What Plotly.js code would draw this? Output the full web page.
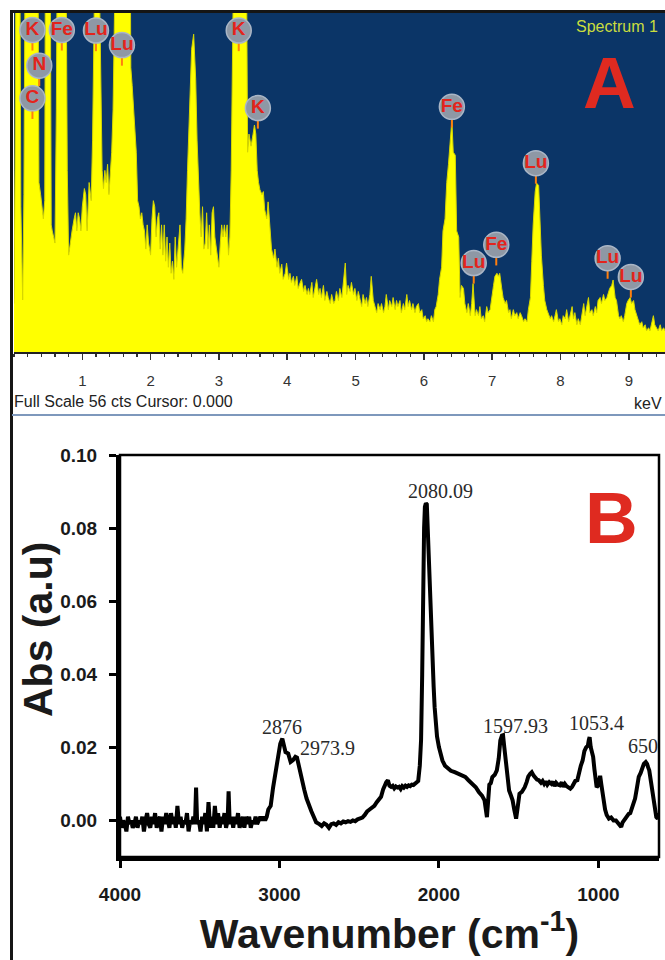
<!DOCTYPE html>
<html>
<head>
<meta charset="utf-8">
<script src="https://cdn.plot.ly/plotly-3.0.1.min.js"></script>
<style>html,body{margin:0;padding:0;background:#fff;}#chart{width:665px;height:960px;}</style>
</head>
<body>
<div id="chart"></div>
<script>
// ---------- Panel A : EDS spectrum ----------
const edsKeV = [0.00,0.015,0.03,0.085,0.10,0.127,0.145,0.165,0.35,0.365,0.39,0.41,0.43,0.45,0.46,0.53,0.545,0.56,0.58,0.60,0.62,0.635,0.76,0.78,0.80,0.82,0.85,0.88,0.90,0.92,0.94,0.96,0.98,1.00,1.03,1.05,1.07,1.10,1.13,1.15,1.17,1.19,1.24,1.27,1.29,1.31,1.33,1.35,1.37,1.39,1.41,1.43,1.45,1.47,1.49,1.70,1.71,1.73,1.75,1.77,1.79,1.81,1.83,1.85,1.87,1.89,1.91,1.93,1.95,1.97,2.00,2.02,2.04,2.06,2.08,2.10,2.12,2.14,2.16,2.18,2.20,2.22,2.24,2.26,2.28,2.30,2.32,2.34,2.36,2.38,2.40,2.43,2.45,2.47,2.50,2.52,2.54,2.57,2.60,2.63,2.66,2.68,2.70,2.72,2.74,2.76,2.78,2.80,2.82,2.84,2.86,2.88,2.90,2.92,2.94,2.96,2.98,3.00,3.02,3.04,3.06,3.08,3.10,3.12,3.14,3.16,3.18,3.20,3.22,3.40,3.42,3.44,3.47,3.50,3.52,3.54,3.56,3.58,3.60,3.63,3.65,3.67,3.70,3.72,3.75,3.77,3.80,3.82,3.85,3.87,3.89,3.92,3.94,3.97,3.99,4.02,4.04,4.06,4.09,4.11,4.14,4.16,4.19,4.21,4.24,4.26,4.29,4.31,4.33,4.36,4.38,4.41,4.43,4.46,4.48,4.50,4.53,4.55,4.58,4.60,4.63,4.65,4.68,4.70,4.72,4.75,4.77,4.80,4.82,4.85,4.87,4.89,4.92,4.94,4.97,4.99,5.02,5.04,5.06,5.09,5.11,5.14,5.16,5.18,5.21,5.23,5.26,5.28,5.31,5.33,5.36,5.38,5.41,5.43,5.45,5.48,5.50,5.53,5.55,5.58,5.60,5.62,5.65,5.67,5.70,5.72,5.75,5.77,5.79,5.82,5.84,5.87,5.89,5.92,5.94,5.97,5.99,6.02,6.04,6.06,6.09,6.11,6.14,6.16,6.18,6.21,6.23,6.26,6.28,6.31,6.335,6.36,6.385,6.41,6.43,6.46,6.48,6.51,6.53,6.55,6.58,6.60,6.63,6.65,6.68,6.70,6.72,6.75,6.77,6.80,6.82,6.84,6.87,6.89,6.92,6.94,6.97,6.99,7.02,7.04,7.07,7.09,7.11,7.14,7.16,7.19,7.21,7.24,7.26,7.28,7.31,7.33,7.36,7.38,7.41,7.43,7.46,7.48,7.51,7.53,7.56,7.58,7.60,7.63,7.65,7.68,7.70,7.72,7.75,7.77,7.80,7.82,7.85,7.87,7.90,7.92,7.94,7.97,7.99,8.02,8.04,8.07,8.09,8.12,8.14,8.17,8.19,8.21,8.24,8.26,8.29,8.31,8.34,8.36,8.38,8.41,8.43,8.46,8.48,8.51,8.53,8.55,8.58,8.60,8.63,8.65,8.68,8.70,8.72,8.75,8.77,8.80,8.82,8.85,8.87,8.89,8.92,8.94,8.97,8.99,9.02,9.04,9.07,9.09,9.12,9.14,9.16,9.19,9.21,9.24,9.26,9.29,9.31,9.34,9.36,9.38,9.41,9.43,9.46,9.48,9.51,9.53];
const edsCounts = [8,30,70,70,24,8.6,26,70,70,28,26,24,22,25,70,70,21,20,19,18,40,70,70,30,16,18,20,22,23,20,23,22,20,24,27,26,20,28,25,35,55,70,70,50,30,27,30,28,31,26,30,33,40,55,70,70,47,44,40,35,33,25,24,22,23,21,20,17,21,18,16,22,25,24,19,22,23,17,21,16,21,15,19,14,18,13,15,12,19,14,17,21,14,13,17,22,30,40,50,52.5,45,35,27,23,19,24,17,18,23,17,21,16,23,24,19,17,16,14,18,21,19,21,19,21,16,19,30,50,70,70,33,36,34,36,37.5,36,30,28,26.8,26,26.5,23.5,22,24.8,19,17,15.5,17,14,15.5,13,14.5,12,13,14.7,12,13,11.5,12.5,11,12.5,10.5,11.5,12,10,11,9.5,10.5,9.5,11.5,9,10.5,12,9.5,10.5,9,11,8.5,10,9,8,9.5,8,8.5,10,8.5,10.5,9,11,14.7,9.5,11,10,11.5,9.5,10.5,8.5,10,9,7.5,9.5,8,9,7.5,9.5,12.5,8.5,7.5,6.5,8,7,8,6.5,7.5,9.5,7,8.5,7.5,9,7,8.5,7.5,8.5,6.5,8,7,9.5,7.5,8.5,7,8,6.5,7.5,8,6.5,7,5.5,6,5,5.5,5,6,5,7,7.5,9.5,12,14,20,22,28,31,35,38.3,33,32.5,20,19,9,11,10.5,8,6.5,8,6,8,11.3,6,7,6,7.5,5.5,6,5,7.5,6.5,7,9,11,12.5,13,12.5,13,10.5,9,8,8.5,6.5,7,5.5,7,6,6.5,5.5,6.5,6,5,5.5,5,7,9,15,21,26.5,27.9,27.5,22,16,11,8.5,7,6.5,5.5,6,5,6,7,5,5.5,4.5,6,5.5,7,5,6,7.5,5.5,6.5,4.5,5.5,4.5,6,8,6,7,9,6.5,7,6,7.5,6.5,8.5,9,8,9.5,8.5,9,10,10.5,11,11.9,9,8.5,6,5.5,6,5,6,8,8.5,9,8,8.5,7,6,5.5,4.5,5,4,4.5,3.5,4,3.5,5,6,4.5,4,3.5,4.5,3.5,4,3.5];
const edsTickVals = [1,2,3,4,5,6,7,8,9];
const edsLabelText = ['K','Fe','Lu','Lu','N','C','K','K','Fe','Lu','Lu','Fe','Lu','Lu'];
const edsLabelKeV = [0.27,0.70,1.20,1.58,0.37,0.27,3.29,3.57,6.41,7.64,6.73,7.06,8.69,9.03];
const edsLabelCts = [53.2,53.2,53.1,50.7,47.3,41.9,53.1,40.3,40.5,31.2,14.7,17.7,15.5,12.4];

// ---------- Panel B : FTIR spectrum ----------
const ftirWavenumber = [4000,3990,3980,3970,3960,3950,3940,3930,3920,3910,3900,3890,3880,3870,3860,3850,3840,3830,3820,3810,3800,3790,3780,3770,3760,3750,3740,3730,3720,3710,3700,3690,3680,3670,3660,3650,3640,3630,3620,3610,3600,3590,3580,3570,3560,3550,3540,3530,3523,3516,3505,3495,3485,3475,3465,3455,3445,3435,3425,3415,3405,3395,3385,3375,3365,3355,3345,3335,3325,3319,3312,3300,3290,3280,3270,3260,3250,3240,3230,3220,3210,3200,3190,3180,3170,3160,3150,3140,3130,3120,3110,3100,3090,3080,3070,3055,3040,3025,3010,2995,2982,2972,2962,2945,2930,2915,2900,2890,2875,2860,2845,2830,2815,2800,2785,2770,2750,2735,2720,2705,2690,2675,2660,2645,2630,2615,2600,2585,2570,2555,2540,2525,2510,2495,2480,2465,2450,2435,2420,2405,2390,2375,2363,2350,2340,2330,2320,2310,2300,2290,2280,2270,2260,2250,2240,2230,2220,2210,2200,2190,2180,2170,2160,2150,2140,2130,2120,2112,2105,2099,2093,2088,2082,2076,2070,2064,2058,2050,2044,2038,2033,2027,2022,2012,2000,1990,1978,1962,1945,1925,1901,1880,1860,1835,1815,1795,1769,1750,1730,1714,1705,1699,1692,1684,1675,1665,1650,1637,1625,1615,1605,1598,1590,1582,1572,1560,1548,1538,1528,1516,1508,1500,1495,1480,1470,1462,1450,1440,1428,1418,1405,1395,1385,1374,1360,1350,1340,1330,1320,1308,1295,1285,1275,1265,1255,1242,1230,1220,1210,1200,1190,1176,1165,1155,1145,1132,1120,1110,1099,1088,1077,1066,1060,1055,1048,1040,1033,1025,1018,1011,1003,995,989,982,975,967,958,948,934,920,905,890,875,865,857,848,838,824,810,800,790,780,770,760,747,735,725,715,703,695,688,681,670,659,648,637,628,622];
const ftirAbs = [0.001,-0.002,0.000,-0.001,-0.003,0.001,-0.001,0.000,-0.002,-0.001,0.001,-0.002,0.000,-0.001,0.001,-0.003,0.000,0.002,-0.001,-0.002,0.001,-0.001,0.002,-0.002,0.000,0.001,-0.003,0.001,-0.001,0.002,0.000,-0.002,0.002,-0.001,0.001,-0.002,0.004,-0.001,0.001,-0.002,0.000,-0.001,0.002,-0.003,0.000,-0.001,0.001,-0.001,0.009,-0.001,0.000,-0.003,0.001,-0.001,0.002,-0.003,0.005,-0.002,0.001,-0.002,0.004,-0.001,0.002,-0.002,0.001,-0.001,0.002,-0.002,0.000,0.008,-0.001,0.001,-0.002,0.001,-0.001,0.002,-0.002,0.000,0.001,-0.002,0.001,-0.001,0.001,-0.002,0.000,-0.001,0.001,-0.001,0.000,0.001,0.000,0.001,0.000,0.001,0.003,0.004,0.009,0.0128,0.016,0.021,0.0224,0.020,0.0187,0.0183,0.016,0.0165,0.0174,0.0172,0.014,0.011,0.0085,0.006,0.004,0.0025,0.001,-0.0005,-0.001,-0.0015,-0.0008,-0.0012,-0.002,-0.001,-0.0008,-0.0012,-0.0005,-0.0008,-0.0003,-0.0005,-0.0002,-0.0004,0.0000,-0.0002,0.0003,0.0005,0.0008,0.0015,0.0025,0.003,0.0035,0.004,0.005,0.006,0.0065,0.0085,0.0098,0.0105,0.011,0.0095,0.0092,0.0095,0.0088,0.0093,0.0090,0.0092,0.0086,0.0094,0.0090,0.0095,0.0092,0.0096,0.0094,0.0098,0.0097,0.0100,0.0102,0.0108,0.015,0.022,0.040,0.0658,0.080,0.0858,0.0868,0.0865,0.079,0.069,0.0648,0.055,0.0475,0.041,0.0365,0.031,0.0265,0.023,0.0201,0.018,0.0164,0.015,0.0142,0.0136,0.0132,0.0128,0.0122,0.0119,0.011,0.0102,0.0091,0.0078,0.0068,0.0055,0.0030,0.0009,0.005,0.0098,0.0102,0.0119,0.0125,0.0137,0.017,0.0219,0.0232,0.0233,0.020,0.0164,0.012,0.0082,0.0068,0.0055,0.003,0.0005,0.003,0.0065,0.0073,0.0078,0.0085,0.0091,0.0105,0.012,0.0128,0.0132,0.0122,0.0115,0.0112,0.0110,0.0103,0.0108,0.0100,0.0107,0.0098,0.0105,0.0100,0.0106,0.0094,0.0103,0.0098,0.0096,0.0104,0.0092,0.0100,0.0094,0.0090,0.0087,0.0092,0.0100,0.0108,0.011,0.0135,0.0150,0.0164,0.019,0.020,0.0205,0.022,0.0228,0.020,0.019,0.0174,0.0140,0.011,0.0091,0.0095,0.0119,0.0122,0.010,0.0075,0.0055,0.003,0.0015,0.0005,0.0008,0.0,0.0,-0.0008,-0.0012,-0.0018,-0.0005,0.0002,0.0009,0.0018,0.002,0.0035,0.0046,0.006,0.0085,0.0119,0.013,0.0145,0.0155,0.016,0.0155,0.0145,0.0137,0.0105,0.0073,0.004,0.0009,0.0005,0.002];
const ftirTickX = [4000,3000,2000,1000];
const ftirTickY = [0.00,0.02,0.04,0.06,0.08,0.10];
const ftirPeakLabels = ['2080.09','2876','2973.9','1597.93','1053.4','650'];

// ---------- geometry (page pixels) ----------
const W = 665, H = 960;
const PX = x => x / W, PY = y => 1 - y / H;
const SANS = 'Arial, "Liberation Sans", sans-serif';
const SERIF = '"Times New Roman", "Liberation Serif", serif';
const ctsPerPx = 56 / (352 - 13);
// peak-label anchor positions (layout, in axis units)
const ftirLabelPos = [[1988,0.0901],[2984,0.0255],[2696,0.0197],[1517,0.0258],[1009,0.0268],[721,0.0203]];

const traces = [
  { x: edsKeV, y: edsCounts, xaxis: 'x', yaxis: 'y', type: 'scatter', mode: 'lines',
    fill: 'tozeroy', fillcolor: '#ffff00', line: { color: '#d6d600', width: 1 }, hoverinfo: 'skip' },
  { x: edsLabelKeV, y: edsLabelCts.map(c => c - 15 * ctsPerPx), xaxis: 'x', yaxis: 'y', type: 'scatter', mode: 'markers',
    marker: { symbol: 'line-ns-open', size: 8, line: { color: '#a9b6c8', width: 2 } }, hoverinfo: 'skip' },
  { x: edsLabelKeV, y: edsLabelCts, text: edsLabelText, xaxis: 'x', yaxis: 'y', type: 'scatter', mode: 'markers+text',
    marker: { size: 25, color: '#8e98a5', line: { color: '#aab6c6', width: 1.5 } },
    textposition: 'middle center', textfont: { family: SANS, size: 19, color: '#e3241c', weight: 'bold' }, hoverinfo: 'skip' },
  { x: ftirWavenumber, y: ftirAbs, xaxis: 'x2', yaxis: 'y2', type: 'scatter', mode: 'lines',
    line: { color: '#000', width: 4 }, hoverinfo: 'skip' }
];

const annotations = [
  { xref: 'paper', yref: 'paper', x: PX(12), y: PY(402), xanchor: 'left', yanchor: 'middle', showarrow: false,
    text: 'Full Scale 56 cts Cursor: 0.000', font: { family: SANS, size: 16, color: '#222' } },
  { xref: 'paper', yref: 'paper', x: PX(664), y: PY(403), xanchor: 'right', yanchor: 'middle', showarrow: false,
    text: 'keV', font: { family: SANS, size: 16, color: '#222' } },
  { xref: 'paper', yref: 'paper', x: PX(617), y: PY(27), xanchor: 'center', yanchor: 'middle', showarrow: false,
    text: 'Spectrum 1', font: { family: SANS, size: 16, color: '#c9dd3e' } },
  { xref: 'paper', yref: 'paper', x: PX(609), y: PY(82), xanchor: 'center', yanchor: 'middle', showarrow: false,
    text: 'A', font: { family: SANS, size: 73, color: '#df2a20', weight: 'bold' } },
  { xref: 'paper', yref: 'paper', x: PX(611), y: PY(517), xanchor: 'center', yanchor: 'middle', showarrow: false,
    text: 'B', font: { family: SANS, size: 73, color: '#df2a20', weight: 'bold' } },
  { xref: 'paper', yref: 'paper', x: PX(38), y: PY(630), xanchor: 'center', yanchor: 'middle', showarrow: false,
    textangle: -90, text: 'Abs (a.u)', font: { family: SANS, size: 41, color: '#1a1a1a', weight: 'bold' } }
];
ftirPeakLabels.forEach((t, i) => annotations.push({
  xref: 'x2', yref: 'y2', x: ftirLabelPos[i][0], y: ftirLabelPos[i][1], xanchor: 'center', yanchor: 'middle',
  showarrow: false, text: t, font: { family: SERIF, size: 20, color: '#2a2a2a' }
}));

const shapes = [
  { type: 'rect', xref: 'x domain', yref: 'y domain', x0: 0, x1: 1, y0: 0, y1: 1,
    fillcolor: '#0b3567', line: { width: 0 }, layer: 'below' },
  { type: 'rect', xref: 'x2 domain', yref: 'y2 domain', x0: 0, x1: 1, y0: 0, y1: 1,
    line: { color: '#000', width: 2.5 }, layer: 'above' },
  { type: 'line', xref: 'paper', yref: 'paper', x0: PX(11.5), x1: PX(11.5), y0: PY(10), y1: 0,
    line: { color: '#151515', width: 3 } },
  { type: 'line', xref: 'paper', yref: 'paper', x0: PX(10), x1: 1, y0: PY(11.5), y1: PY(11.5),
    line: { color: '#151515', width: 3 } },
  { type: 'line', xref: 'paper', yref: 'paper', x0: PX(12), x1: 1, y0: PY(415), y1: PY(415),
    line: { color: '#7e98bc', width: 2 } }
];

const layout = {
  width: W, height: H, margin: { l: 0, r: 0, t: 0, b: 0 },
  paper_bgcolor: '#fff', plot_bgcolor: '#fff', showlegend: false,
  xaxis: { domain: [PX(14), 1], anchor: 'y', range: [0, 9.53], tickmode: 'array', tickvals: edsTickVals,
    ticks: 'outside', ticklen: 6, tickwidth: 1.5, tickcolor: '#333', ticklabelstandoff: 8,
    minor: { tickmode: 'linear', tick0: 0, dtick: 0.2, ticks: 'outside', ticklen: 3, tickwidth: 1.2, tickcolor: '#333' },
    showline: true, linecolor: '#222', linewidth: 1.5, showgrid: false, zeroline: false,
    tickfont: { family: SANS, size: 15, color: '#333' }, automargin: false },
  yaxis: { domain: [PY(352), PY(13)], anchor: 'x', range: [0, 56], showticklabels: false, ticks: '',
    showline: false, showgrid: false, zeroline: false, automargin: false },
  xaxis2: { domain: [PX(120), PX(659)], anchor: 'y2', range: [4000, 620], tickmode: 'array', tickvals: ftirTickX,
    ticks: 'outside', ticklen: 7, tickwidth: 3, tickcolor: '#000', ticklabelstandoff: 10,
    showline: true, linecolor: '#000', linewidth: 4, showgrid: false, zeroline: false,
    tickfont: { family: SANS, size: 19, color: '#1a1a1a', weight: 'bold' },
    title: { text: 'Wavenumber (cm<sup>-1</sup>)', standoff: 10,
      font: { family: SANS, size: 41, color: '#1a1a1a', weight: 'bold' } }, automargin: false },
  yaxis2: { domain: [PY(857), PY(455)], anchor: 'x2', range: [-0.01, 0.10], tickmode: 'array', tickvals: ftirTickY,
    tickformat: '.2f', ticks: 'outside', ticklen: 7, tickwidth: 3, tickcolor: '#000', ticklabelstandoff: 8,
    showline: true, linecolor: '#000', linewidth: 4, showgrid: false, zeroline: false,
    tickfont: { family: SANS, size: 19, color: '#1a1a1a', weight: 'bold' }, automargin: false },
  annotations, shapes
};

Plotly.newPlot('chart', traces, layout, { staticPlot: true, displayModeBar: false });
</script>
</body>
</html>
